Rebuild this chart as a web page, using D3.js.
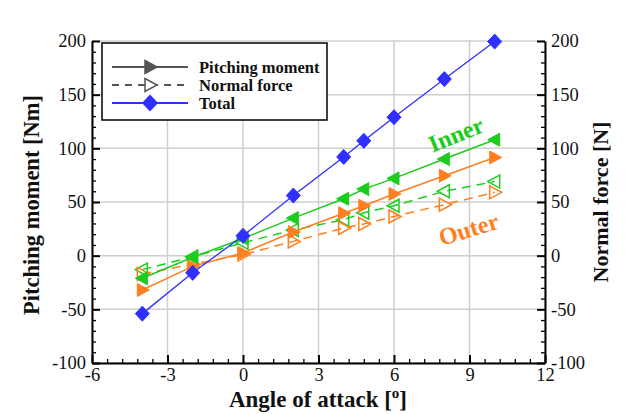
<!DOCTYPE html>
<html><head><meta charset="utf-8">
<script src="https://cdn.jsdelivr.net/npm/d3@7"></script>
<style>body{margin:0;background:#fff}svg{display:block}</style>
</head><body><svg id="c" width="630" height="414"></svg>
<script>
const angles = [-4, -2, 0, 2, 4, 4.8, 6, 8, 10];
const totalMoment = [-54, -16, 18.5, 56, 92, 107, 129, 164.5, 199.5];
const innerMoment = [-21, -1.5, 16, 35, 53, 62, 72, 90, 108];
const outerMoment = [-32, -10, 2.5, 22, 39.5, 46.5, 57.5, 74.5, 91.5];
const innerNormal = [-13, -1, 12, 24, 33.5, 40, 46.5, 60, 69];
const outerNormal = [-17, -8, 1, 13.3, 25.8, 29.5, 36.5, 47.5, 59];
const xTicks = [-6, -3, 0, 3, 6, 9, 12];
const yTicks = [-100, -50, 0, 50, 100, 150, 200];
const legendLabels = ["Pitching moment", "Normal force", "Total"];

const svg = d3.select("#c");
const L = 92, R = 545, T = 41, B = 363;
const x = d3.scaleLinear().domain([-6, 12]).range([L, R]);
const y = d3.scaleLinear().domain([-100, 200]).range([B, T]);
const serif = "Liberation Serif, Times New Roman, serif";
const GREEN = "#1ccc1c", ORANGE = "#ff7f1e", BLUE = "#2f2fff";
const fmt = d => String(d);

// grid
const g = svg.append("g");
g.selectAll(".gx").data(xTicks).join("line").attr("x1", d => x(d)).attr("x2", d => x(d))
  .attr("y1", T).attr("y2", B).attr("stroke", "#cfcfcf").attr("stroke-width", 1.5);
g.selectAll(".gy").data(yTicks).join("line").attr("y1", d => y(d)).attr("y2", d => y(d))
  .attr("x1", L).attr("x2", R).attr("stroke", "#cfcfcf").attr("stroke-width", 1.5);

// minor ticks
const yMinor = d3.range(-100, 201, 10).filter(v => v % 50 !== 0);
const xMinor = d3.range(-6, 12.001, 0.6).map(v => +v.toFixed(2)).filter(v => Math.abs(v / 3 - Math.round(v / 3)) > 1e-6);

function styleAxis(sel) {
  sel.attr("font-family", serif).attr("font-size", 18.5);
  sel.select(".domain").attr("stroke", "#000").attr("stroke-width", 2);
  sel.selectAll(".tick line").attr("stroke", "#000").attr("stroke-width", 2);
  sel.selectAll("text").attr("font-family", serif).attr("font-size", 18.5).attr("fill", "#111");
}
function minorAxis(sel) {
  sel.select(".domain").remove();
  sel.selectAll(".tick line").attr("stroke", "#000").attr("stroke-width", 1.3);
  sel.selectAll("text").remove();
}
svg.append("g").attr("transform", `translate(${L},0)`)
  .call(d3.axisLeft(y).tickValues(yMinor).tickSize(-4).tickSizeOuter(0)).call(minorAxis);
svg.append("g").attr("transform", `translate(${R},0)`)
  .call(d3.axisRight(y).tickValues(yMinor).tickSize(-4).tickSizeOuter(0)).call(minorAxis);
svg.append("g").attr("transform", `translate(0,${B})`)
  .call(d3.axisBottom(x).tickValues(xMinor).tickSize(-4).tickSizeOuter(0)).call(minorAxis);

svg.append("g").attr("transform", `translate(${L},0)`)
  .call(d3.axisLeft(y).tickValues(yTicks).tickSize(-8).tickSizeOuter(0).tickPadding(6).tickFormat(fmt))
  .call(styleAxis);
svg.append("g").attr("transform", `translate(${R},0)`)
  .call(d3.axisRight(y).tickValues(yTicks).tickSize(-8).tickSizeOuter(0).tickPadding(6).tickFormat(fmt))
  .call(styleAxis);
svg.append("g").attr("transform", `translate(0,${B})`)
  .call(d3.axisBottom(x).tickValues(xTicks).tickSize(-8).tickSizeOuter(0).tickPadding(5).tickFormat(fmt))
  .call(styleAxis);

// series
const triR = "M-5,-6.5L7,0L-5,6.5Z";
const triL = "M5,-6.5L-7,0L5,6.5Z";
const diamond = "M0,-7.5L7,0L0,7.5L-7,0Z";
const line = d3.line().x(d => x(d[0])).y(d => y(d[1]));

function series(vals, color, dashed, shape, filled, sw) {
  const pts = angles.map((a, i) => [a, vals[i]]);
  svg.append("path").datum(pts).attr("d", line).attr("fill", "none")
    .attr("stroke", color).attr("stroke-width", sw || 1.5)
    .attr("stroke-dasharray", dashed ? "9,6" : null);
  svg.append("g").selectAll("path").data(pts).join("path")
    .attr("transform", d => `translate(${x(d[0])},${y(d[1])})`)
    .attr("d", shape)
    .attr("fill", filled ? color : "#fff").attr("fill-opacity", filled ? 1 : 0)
    .attr("stroke", color).attr("stroke-width", filled ? 1 : 1.5);
}
series(innerNormal, GREEN, true, triL, false);
series(outerNormal, ORANGE, true, triR, false);
series(outerMoment, ORANGE, false, triR, true);
series(innerMoment, GREEN, false, triL, true);
series(totalMoment, BLUE, false, diamond, true, 1.3);

// series labels
svg.append("text").attr("transform", "translate(459,142) rotate(-22)")
  .attr("font-family", serif).attr("font-weight", "bold").attr("font-size", 24)
  .attr("fill", GREEN).attr("text-anchor", "middle").text("Inner");
svg.append("text").attr("transform", "translate(471,237) rotate(-17)")
  .attr("font-family", serif).attr("font-weight", "bold").attr("font-size", 24)
  .attr("fill", ORANGE).attr("text-anchor", "middle").text("Outer");

// legend
const lg = svg.append("g");
lg.append("rect").attr("x", 102).attr("y", 43).attr("width", 225).attr("height", 77)
  .attr("fill", "#fff").attr("stroke", "#000").attr("stroke-width", 1.5);
const legendStyles = [
  {color: "#555", dash: null, shape: triR, filled: true},
  {color: "#555", dash: "7,6", shape: triR, filled: false},
  {color: BLUE, dash: null, shape: diamond, filled: true}
];
legendLabels.forEach((lab, i) => {
  const yy = 67 + i * 18;
  const st = legendStyles[i];
  lg.append("line").attr("x1", 112).attr("x2", 188).attr("y1", yy).attr("y2", yy)
    .attr("stroke", st.color).attr("stroke-width", 1.8).attr("stroke-dasharray", st.dash);
  lg.append("path").attr("transform", `translate(150,${yy})`).attr("d", st.shape)
    .attr("fill", st.filled ? st.color : "#fff").attr("stroke", st.color).attr("stroke-width", 1.5);
  lg.append("text").attr("x", 199).attr("y", yy + 5.5).attr("font-family", serif)
    .attr("font-weight", "bold").attr("font-size", 16.5).attr("fill", "#111").text(lab);
});

// axis titles
svg.append("text").attr("transform", "translate(39,205) rotate(-90)").attr("text-anchor", "middle")
  .attr("font-family", serif).attr("font-weight", "bold").attr("font-size", 22.5).attr("fill", "#111")
  .text("Pitching moment [Nm]");
svg.append("text").attr("transform", "translate(608,202) rotate(-90)").attr("text-anchor", "middle")
  .attr("font-family", serif).attr("font-weight", "bold").attr("font-size", 22).attr("fill", "#111")
  .text("Normal force [N]");
const xt = svg.append("text").attr("x", 318).attr("y", 407).attr("text-anchor", "middle")
  .attr("font-family", serif).attr("font-weight", "bold").attr("font-size", 23).attr("fill", "#111");
xt.append("tspan").text("Angle of attack [");
xt.append("tspan").attr("font-size", 15).attr("dy", -9).text("o");
xt.append("tspan").attr("dy", 9).text("]");
</script></body></html>
